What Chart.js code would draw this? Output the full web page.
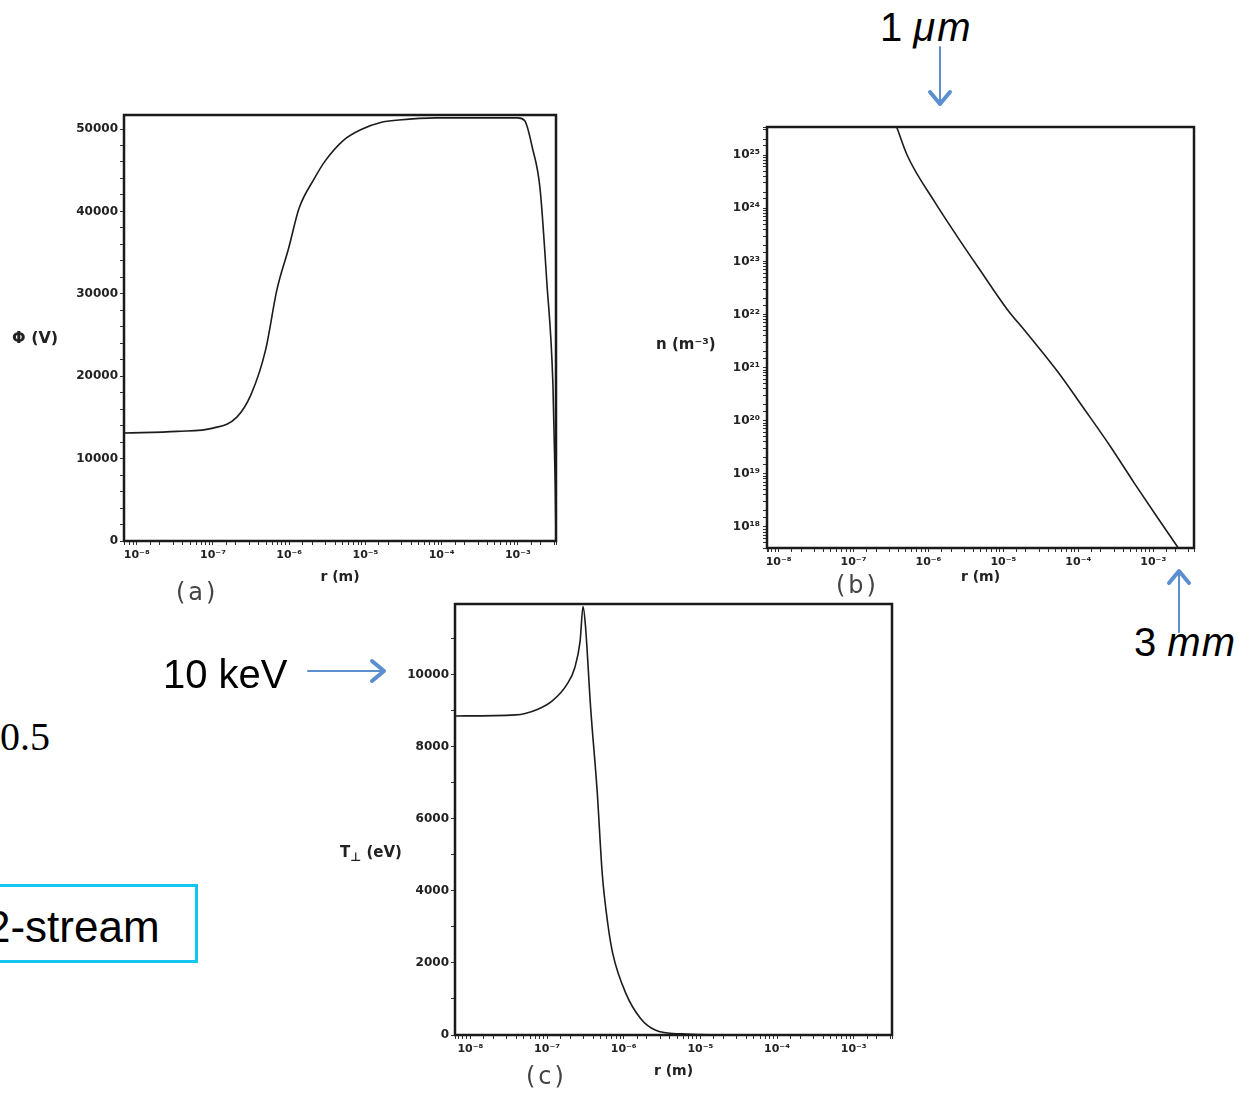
<!DOCTYPE html>
<html>
<head>
<meta charset="utf-8">
<script src="https://cdn.jsdelivr.net/npm/chart.js@4"></script>
<style>
  body { margin: 0; width: 1245px; height: 1095px; background: #fff; position: relative; overflow: hidden; font-family: "Liberation Sans", Arial, sans-serif; }
  canvas { position: absolute; }
  .ylab { position: absolute; font: bold 15px "DejaVu Sans", sans-serif; color: #222; white-space: nowrap; }
  .panel { position: absolute; font: 24px "DejaVu Sans", sans-serif; color: #444; letter-spacing: 3px; white-space: nowrap; }
  .note { position: absolute; font-size: 40px; line-height: 40px; color: #000; white-space: nowrap; }
  .box { position: absolute; left: -20px; top: 884px; width: 218px; height: 79px; border: 3px solid #12c6f2; box-sizing: border-box; }
  svg { position: absolute; left: 0; top: 0; }
</style>
</head>
<body>
<canvas id="chartA" width="580" height="525" style="left:0;top:95px"></canvas>
<canvas id="chartB" width="605" height="520" style="left:640px;top:100px"></canvas>
<canvas id="chartC" width="580" height="510" style="left:330px;top:585px"></canvas>

<div class="ylab" style="left:12px;top:328px;font-size:16px">Φ (V)</div>
<div class="ylab" style="left:656px;top:335px">n (m⁻³)</div>
<div class="ylab" style="left:340px;top:843px">T<sub style="font-size:12px">⊥</sub> (eV)</div>

<div class="panel" style="left:176px;top:578px">(a)</div>
<div class="panel" style="left:836px;top:571px">(b)</div>
<div class="panel" style="left:526px;top:1062px">(c)</div>

<div class="note" style="left:880px;top:7px">1 <i style="letter-spacing:2px">μm</i></div>
<div class="note" style="left:1134px;top:622px">3 <i style="letter-spacing:1px">mm</i></div>
<div class="note" style="left:163px;top:654px">10 keV</div>
<div class="note" style="left:0;top:717px;font-family:'Liberation Serif',serif">0.5</div>
<div class="box"></div>
<div class="note" style="left:-14px;top:905px;font-size:44px;line-height:44px">2-stream</div>

<svg width="1245" height="1095">
  <g stroke="#5b8fcf" fill="none" stroke-linecap="round" stroke-linejoin="round">
    <line x1="940" y1="47" x2="940" y2="104" stroke-width="2"/>
    <polyline points="930,92 940,104 950,92" stroke-width="4"/>
    <line x1="1179" y1="632" x2="1179" y2="571" stroke-width="2"/>
    <polyline points="1169,583 1179,571 1189,583" stroke-width="4"/>
    <line x1="308" y1="671" x2="384" y2="671" stroke-width="2"/>
    <polyline points="372,661 384,671 372,681" stroke-width="4"/>
  </g>
</svg>

<script>
// (a) potential vs radius
const phiR = [6.8e-9, 3.4e-8, 1.0e-7, 2.04e-7, 3.16e-7, 4.9e-7, 6.9e-7, 9.8e-7, 1.35e-6, 2.14e-6, 2.95e-6, 5.1e-6,
  9.1e-6, 1.58e-5, 2.75e-5, 8.5e-5, 1.0e-3, 1.23e-3, 1.55e-3, 1.95e-3, 2.4e-3, 2.88e-3, 3.09e-3, 3.16e-3];
const phiV = [13100, 13300, 13700, 15000, 17800, 23200, 30500, 35500, 40400, 44000, 46100, 48600,
  50000, 50800, 51100, 51350, 51350, 51000, 47700, 42800, 31300, 19000, 6800, 0];
const phiTicks = [0, 10000, 20000, 30000, 40000, 50000];

// (b) density vs radius
const densR = [3.8e-7, 5.2e-7, 1.2e-6, 2.4e-6, 4.9e-6, 1.12e-5, 2.0e-5, 5.2e-5, 1.2e-4, 2.75e-4, 5.5e-4, 1.12e-3, 2.14e-3];
const densN = [3.3e25, 1.0e25, 1.35e24, 3.0e23, 6.8e22, 1.26e22, 4.7e21, 8.7e20, 1.66e20, 3.1e19, 6.9e18, 1.55e18, 4.1e17];

// (c) perpendicular temperature vs radius
const tempR = [6.3e-9, 3.9e-8, 7.6e-8, 1.17e-7, 1.82e-7, 2.3e-7, 2.7e-7, 2.95e-7, 3.16e-7, 3.7e-7, 4.5e-7,
  5.25e-7, 6.2e-7, 7.2e-7, 1.07e-6, 1.66e-6, 2.57e-6, 5.6e-6, 2.9e-5, 3.16e-3];
const tempT = [8860, 8890, 9050, 9280, 9740, 10200, 10940, 11900, 11400, 9100, 6790,
  4480, 3090, 2260, 1150, 460, 140, 30, 0, 0];
const tempTicks = [0, 2000, 4000, 6000, 8000, 10000];

const xTitle = 'r (m)';

const supDigits = { '-': '⁻', '0': '⁰', '1': '¹', '2': '²', '3': '³', '4': '⁴', '5': '⁵', '6': '⁶', '7': '⁷', '8': '⁸', '9': '⁹' };

function decadeLabel(value) {
  const e = Math.log10(value);
  if (Math.abs(e - Math.round(e)) > 1e-6) return '';
  return '10' + String(Math.round(e)).split('').map((c) => supDigits[c]).join('');
}

function toPoints(xs, ys) {
  return xs.map((x, i) => ({ x: x, y: ys[i] }));
}

// black box around the plot area
const framePlugin = {
  id: 'frame',
  afterDatasetsDraw(chart) {
    const a = chart.chartArea;
    const ctx = chart.ctx;
    ctx.save();
    ctx.strokeStyle = '#1a1a1a';
    ctx.lineWidth = 2.5;
    ctx.strokeRect(a.left, a.top, a.right - a.left, a.bottom - a.top);
    ctx.restore();
  }
};

const logFont = { family: 'DejaVu Sans', size: 11, weight: 'bold' };
const linFont = { family: 'DejaVu Sans', size: 12, weight: 'bold' };

// labelled ticks plus small ones in between
function linearAxis(max, labels, minorPerMajor, width) {
  const step = labels[1] / minorPerMajor;
  const all = [];
  for (let v = 0; v <= max; v += step) all.push(v);
  return {
    type: 'linear', min: 0, max: max,
    afterFit: (s) => { s.width = width; },
    afterBuildTicks: (s) => { s.ticks = all.map((v) => ({ value: v })); },
    border: { display: false },
    grid: { drawOnChartArea: false, tickLength: 4, color: '#333' },
    ticks: {
      autoSkip: false, padding: 2, color: '#222', font: linFont,
      callback: (v) => (labels.includes(v) ? String(v) : '')
    }
  };
}

function logAxis(min, max, width) {
  return {
    type: 'logarithmic', min: min, max: max,
    afterFit: (s) => { s.width = width; },
    border: { display: false },
    grid: { drawOnChartArea: false, tickLength: 4, color: '#333' },
    ticks: { autoSkip: false, padding: 3, color: '#222', font: { family: 'DejaVu Sans', size: 12, weight: 'bold' }, callback: (v) => decadeLabel(v) }
  };
}

function buildChart(id, xs, ys, o) {
  return new Chart(document.getElementById(id), {
    type: 'line',
    data: {
      datasets: [{
        data: toPoints(xs, ys),
        borderColor: '#1c1c1c',
        borderWidth: 1.6,
        pointRadius: 0,
        cubicInterpolationMode: 'monotone',
        fill: false
      }]
    },
    options: {
      responsive: false,
      animation: false,
      layout: { padding: o.padding },
      plugins: { legend: { display: false }, tooltip: { enabled: false } },
      scales: {
        x: {
          type: 'logarithmic', min: o.xMin, max: o.xMax,
          afterFit: (s) => { s.height = o.xHeight; },
          border: { display: false },
          grid: { drawOnChartArea: false, tickLength: 4, color: '#333' },
          ticks: { autoSkip: false, maxRotation: 0, padding: 4, color: '#222', font: logFont, callback: (v) => decadeLabel(v) },
          title: { display: true, text: xTitle, color: '#222', font: { family: 'DejaVu Sans', size: 14, weight: 'bold' }, padding: { top: 0, bottom: o.titlePad } }
        },
        y: o.y
      }
    },
    plugins: [framePlugin]
  });
}

buildChart('chartA', phiR, phiV, {
  padding: { top: 20, right: 24 },
  xMin: 6.8e-9, xMax: 3.16e-3, xHeight: 79, titlePad: 34,
  y: linearAxis(51700, phiTicks, 5, 124)
});

buildChart('chartB', densR, densN, {
  padding: { top: 27, right: 51 },
  xMin: 7.4e-9, xMax: 3.5e-3, xHeight: 72, titlePad: 34,
  y: logAxis(4.0e17, 3.4e25, 127)
});

buildChart('chartC', tempR, tempT, {
  padding: { top: 19, right: 18 },
  xMin: 6.3e-9, xMax: 3.16e-3, xHeight: 60, titlePad: 15,
  y: linearAxis(11970, tempTicks, 2, 125)
});
</script>
</body>
</html>
